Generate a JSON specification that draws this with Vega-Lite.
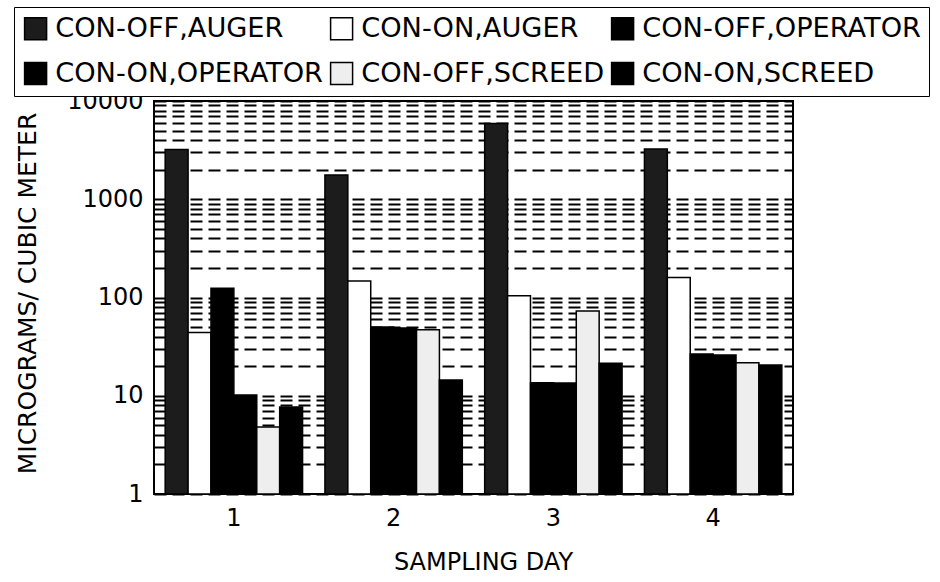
{
  "$schema": "https://vega.github.io/schema/vega-lite/v6.json",
  "width": 639,
  "height": 393,
  "autosize": {"type": "none"},
  "padding": {"left": 154, "top": 101, "right": 147, "bottom": 88},
  "background": "white",
  "config": {
    "view": {"stroke": "black", "strokeWidth": 2},
    "font": "DejaVu Sans"
  },
  "data": {
    "values": [
      {"day": "1", "series": "CON-OFF,AUGER", "value": 3200},
      {"day": "1", "series": "CON-ON,AUGER", "value": 44},
      {"day": "1", "series": "CON-OFF,OPERATOR", "value": 124},
      {"day": "1", "series": "CON-ON,OPERATOR", "value": 10.2},
      {"day": "1", "series": "CON-OFF,SCREED", "value": 4.8},
      {"day": "1", "series": "CON-ON,SCREED", "value": 7.7},
      {"day": "2", "series": "CON-OFF,AUGER", "value": 1770},
      {"day": "2", "series": "CON-ON,AUGER", "value": 147},
      {"day": "2", "series": "CON-OFF,OPERATOR", "value": 50},
      {"day": "2", "series": "CON-ON,OPERATOR", "value": 49},
      {"day": "2", "series": "CON-OFF,SCREED", "value": 47},
      {"day": "2", "series": "CON-ON,SCREED", "value": 14.5},
      {"day": "3", "series": "CON-OFF,AUGER", "value": 5900},
      {"day": "3", "series": "CON-ON,AUGER", "value": 104},
      {"day": "3", "series": "CON-OFF,OPERATOR", "value": 13.6},
      {"day": "3", "series": "CON-ON,OPERATOR", "value": 13.5},
      {"day": "3", "series": "CON-OFF,SCREED", "value": 73},
      {"day": "3", "series": "CON-ON,SCREED", "value": 21.4},
      {"day": "4", "series": "CON-OFF,AUGER", "value": 3250},
      {"day": "4", "series": "CON-ON,AUGER", "value": 160},
      {"day": "4", "series": "CON-OFF,OPERATOR", "value": 26.6},
      {"day": "4", "series": "CON-ON,OPERATOR", "value": 26},
      {"day": "4", "series": "CON-OFF,SCREED", "value": 21.7},
      {"day": "4", "series": "CON-ON,SCREED", "value": 20.6}
    ]
  },
  "mark": {"type": "bar", "stroke": "black", "strokeWidth": 1.5},
  "encoding": {
    "x": {
      "field": "day",
      "type": "ordinal",
      "scale": {"paddingInner": 0.14, "paddingOuter": 0.07},
      "axis": {
        "title": "SAMPLING DAY",
        "labelAngle": 0,
        "labelFontSize": 24,
        "labelColor": "black",
        "labelPadding": 12,
        "ticks": false,
        "domain": false,
        "grid": false,
        "titleFontSize": 24,
        "titleFontWeight": "normal",
        "titleColor": "black",
        "titleX": 329,
        "titleY": 68,
        "titleBaseline": "middle"
      }
    },
    "xOffset": {
      "field": "series",
      "type": "nominal",
      "sort": ["CON-OFF,AUGER", "CON-ON,AUGER", "CON-OFF,OPERATOR", "CON-ON,OPERATOR", "CON-OFF,SCREED", "CON-ON,SCREED"],
      "scale": {"paddingInner": 0, "paddingOuter": 0}
    },
    "y": {
      "field": "value",
      "type": "quantitative",
      "stack": null,
      "scale": {"type": "log", "domain": [1, 10000]},
      "axis": {
        "title": "MICROGRAMS/ CUBIC METER",
        "values": [1, 2, 3, 4, 5, 6, 7, 8, 9, 10, 20, 30, 40, 50, 60, 70, 80, 90, 100, 200, 300, 400, 500, 600, 700, 800, 900, 1000, 2000, 3000, 4000, 5000, 6000, 7000, 8000, 9000, 10000],
        "format": "d",
        "labelExpr": "(datum.value == 1 || datum.value == 10 || datum.value == 100 || datum.value == 1000 || datum.value == 10000) ? datum.label : ''",
        "labelOverlap": false,
        "labelFontSize": 24,
        "labelColor": "black",
        "labelPadding": 11,
        "ticks": false,
        "domain": false,
        "grid": true,
        "gridColor": "black",
        "gridDash": [12, 6],
        "gridWidth": 2,
        "gridOpacity": 1,
        "titleFontSize": 25,
        "titleFontWeight": "normal",
        "titleColor": "black",
        "titleAngle": -90,
        "titleX": -127,
        "titleY": 192,
        "titleBaseline": "middle"
      }
    },
    "color": {
      "field": "series",
      "type": "nominal",
      "scale": {
        "domain": ["CON-OFF,AUGER", "CON-ON,AUGER", "CON-OFF,OPERATOR", "CON-ON,OPERATOR", "CON-OFF,SCREED", "CON-ON,SCREED"],
        "range": ["#1c1c1c", "#ffffff", "#000000", "#000000", "#eeeeee", "#000000"]
      },
      "legend": {
        "title": null,
        "orient": "none",
        "direction": "horizontal",
        "legendX": -140,
        "legendY": -94,
        "columns": 3,
        "symbolType": "square",
        "symbolSize": 484,
        "symbolStrokeColor": "black",
        "symbolStrokeWidth": 1.5,
        "labelFontSize": 27.2,
        "labelColor": "black",
        "labelOffset": 6,
        "labelLimit": 500,
        "columnPadding": 3,
        "rowPadding": 16,
        "padding": 8,
        "strokeColor": "black",
        "fillColor": "white"
      }
    }
  }
}
